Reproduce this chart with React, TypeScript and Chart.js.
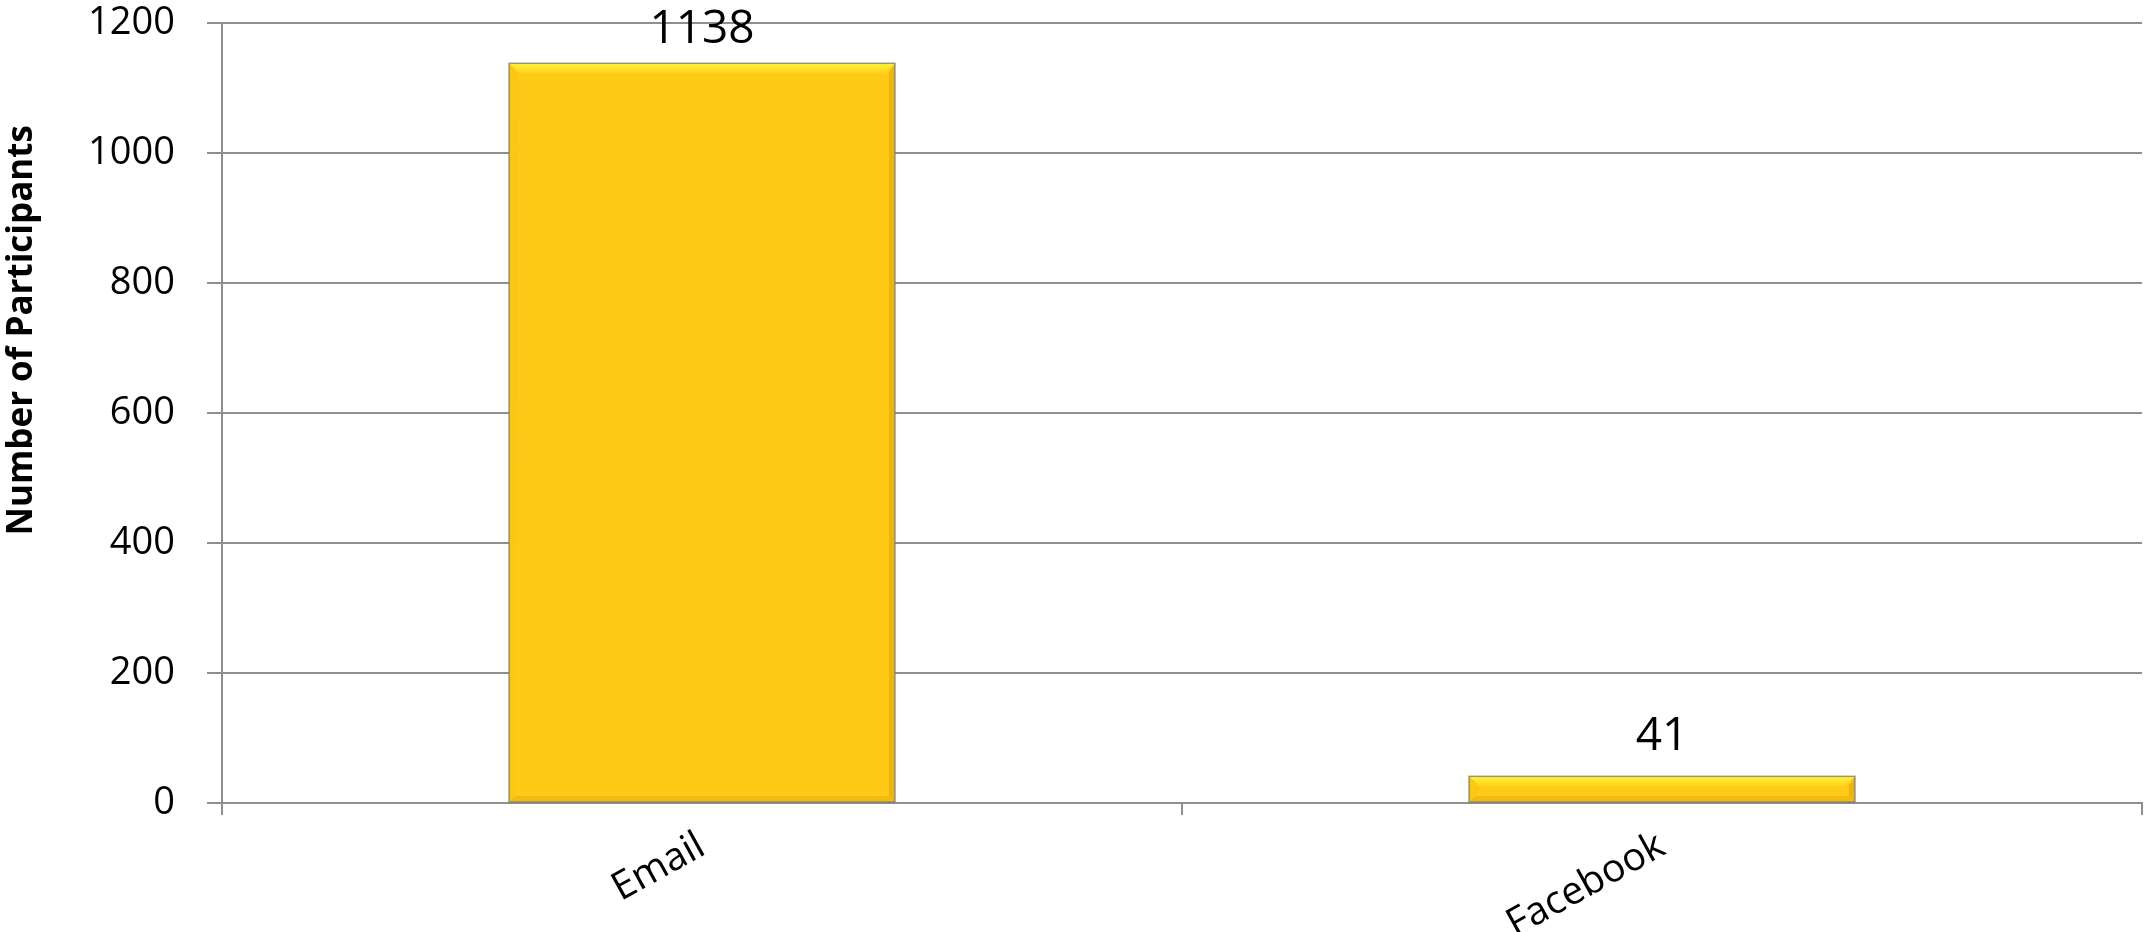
import React, { useEffect, useRef } from "react";
import { Chart, registerables } from "chart.js";

Chart.register(...registerables);

const categories = ["Email", "Facebook"];
const participants = [1138, 41];
const yTicks = [0, 200, 400, 600, 800, 1000, 1200];
const yTitle = "Number of Participants";

const FONT = "'Open Sans', 'Noto Sans', sans-serif";

const bevelPlugin = {
  id: "bevel",
  afterDatasetsDraw(chart: any) {
    const ctx = chart.ctx;
    const meta = chart.getDatasetMeta(0);
    const area = chart.chartArea;
    meta.data.forEach((bar: any, i: number) => {
      const { x, y, base, width } = bar.getProps(["x", "y", "base", "width"], true);
      const l = x - width / 2;
      const r = x + width / 2;
      const t = y;
      const b = base;
      const h = b - t;
      const bev = Math.min(10, h / 2.5);
      ctx.save();
      // top bevel
      const g = ctx.createLinearGradient(0, t, 0, t + bev);
      g.addColorStop(0, "#FFF43C");
      g.addColorStop(1, "#FFD31A");
      ctx.fillStyle = g;
      ctx.beginPath();
      ctx.moveTo(l, t);
      ctx.lineTo(r, t);
      ctx.lineTo(r - bev, t + bev);
      ctx.lineTo(l + bev, t + bev);
      ctx.closePath();
      ctx.fill();
      // right bevel
      ctx.fillStyle = "#EDB40E";
      ctx.beginPath();
      ctx.moveTo(r, t);
      ctx.lineTo(r, b);
      ctx.lineTo(r - bev * 0.6, b - bev * 0.6);
      ctx.lineTo(r - bev * 0.6, t + bev);
      ctx.closePath();
      ctx.fill();
      // bottom bevel
      ctx.fillStyle = "#F2BB12";
      ctx.beginPath();
      ctx.moveTo(l, b);
      ctx.lineTo(r, b);
      ctx.lineTo(r - bev * 0.6, b - bev * 0.6);
      ctx.lineTo(l + bev * 0.6, b - bev * 0.6);
      ctx.closePath();
      ctx.fill();
      // left bevel
      ctx.fillStyle = "#FBC616";
      ctx.beginPath();
      ctx.moveTo(l, t);
      ctx.lineTo(l + bev, t + bev);
      ctx.lineTo(l + bev * 0.6, b - bev * 0.6);
      ctx.lineTo(l, b);
      ctx.closePath();
      ctx.fill();
      // outline shadow
      ctx.strokeStyle = "rgba(120,120,120,0.75)";
      ctx.lineWidth = 1.5;
      ctx.strokeRect(l, t, width, h);
      // value label
      ctx.fillStyle = "#000";
      ctx.font = `46px ${FONT}`;
      ctx.textAlign = "center";
      ctx.textBaseline = "alphabetic";
      ctx.fillText(String(participants[i]), x, Math.max(t - 26, area.top + 20));
      ctx.restore();
    });
  },
};

const titlePlugin = {
  id: "ytitle",
  afterDraw(chart: any) {
    const ctx = chart.ctx;
    const area = chart.chartArea;
    const cy = area.top + (area.bottom - area.top) * 0.394;
    ctx.save();
    ctx.translate(22, cy);
    ctx.rotate(-Math.PI / 2);
    ctx.fillStyle = "#000";
    ctx.font = `bold 35px ${FONT}`;
    ctx.textAlign = "center";
    ctx.textBaseline = "middle";
    ctx.fillText(yTitle, 0, 0);
    ctx.restore();
  },
};

export default function App() {
  const ref = useRef<HTMLCanvasElement | null>(null);
  useEffect(() => {
    if (!ref.current) return;
    const chart = new Chart(ref.current, {
      type: "bar",
      data: {
        labels: categories,
        datasets: [
          {
            data: participants,
            backgroundColor: "#FFCA15",
            borderWidth: 0,
            barPercentage: 0.402,
            categoryPercentage: 1,
          },
        ],
      },
      plugins: [bevelPlugin, titlePlugin],
      options: {
        animation: false,
        responsive: false,
        maintainAspectRatio: false,
        layout: { padding: { top: 23, right: 2, left: 0, bottom: 0 } },
        plugins: { legend: { display: false }, tooltip: { enabled: false } },
        scales: {
          x: {
            offset: true,
            grid: {
              display: true,
              drawOnChartArea: false,
              drawTicks: true,
              tickLength: 12,
              color: "#8E8E8E",
              lineWidth: 2,
              offset: true,
            },
            border: { display: true, color: "#8E8E8E", width: 2 },
            ticks: {
              minRotation: 29,
              maxRotation: 29,
              padding: 8,
              color: "#000",
              font: { family: FONT, size: 39 },
            },
            afterFit(scale: any) {
              scale.height = 129;
              scale.paddingLeft = 0;
              scale.paddingRight = 0;
            },
          },
          y: {
            min: 0,
            max: 1200,
            afterBuildTicks(scale: any) {
              scale.ticks = yTicks.map((v) => ({ value: v }));
            },
            grid: {
              color: "#8E8E8E",
              lineWidth: 2,
              tickLength: 15,
              drawTicks: true,
            },
            border: { display: true, color: "#8E8E8E", width: 2 },
            ticks: {
              padding: 32,
              color: "#000",
              font: { family: FONT, size: 38 },
              callback: (v: any) => String(v),
            },
            afterFit(scale: any) {
              scale.width = 222;
              scale.paddingTop = 0;
              scale.paddingBottom = 0;
            },
          },
        },
      },
    });
    return () => chart.destroy();
  }, []);
  return (
    <div style={{ position: "fixed", left: 0, top: 0, width: 2144, height: 932, background: "#fff" }}>
      <canvas ref={ref} width={2144} height={932} style={{ width: 2144, height: 932 }} />
    </div>
  );
}
